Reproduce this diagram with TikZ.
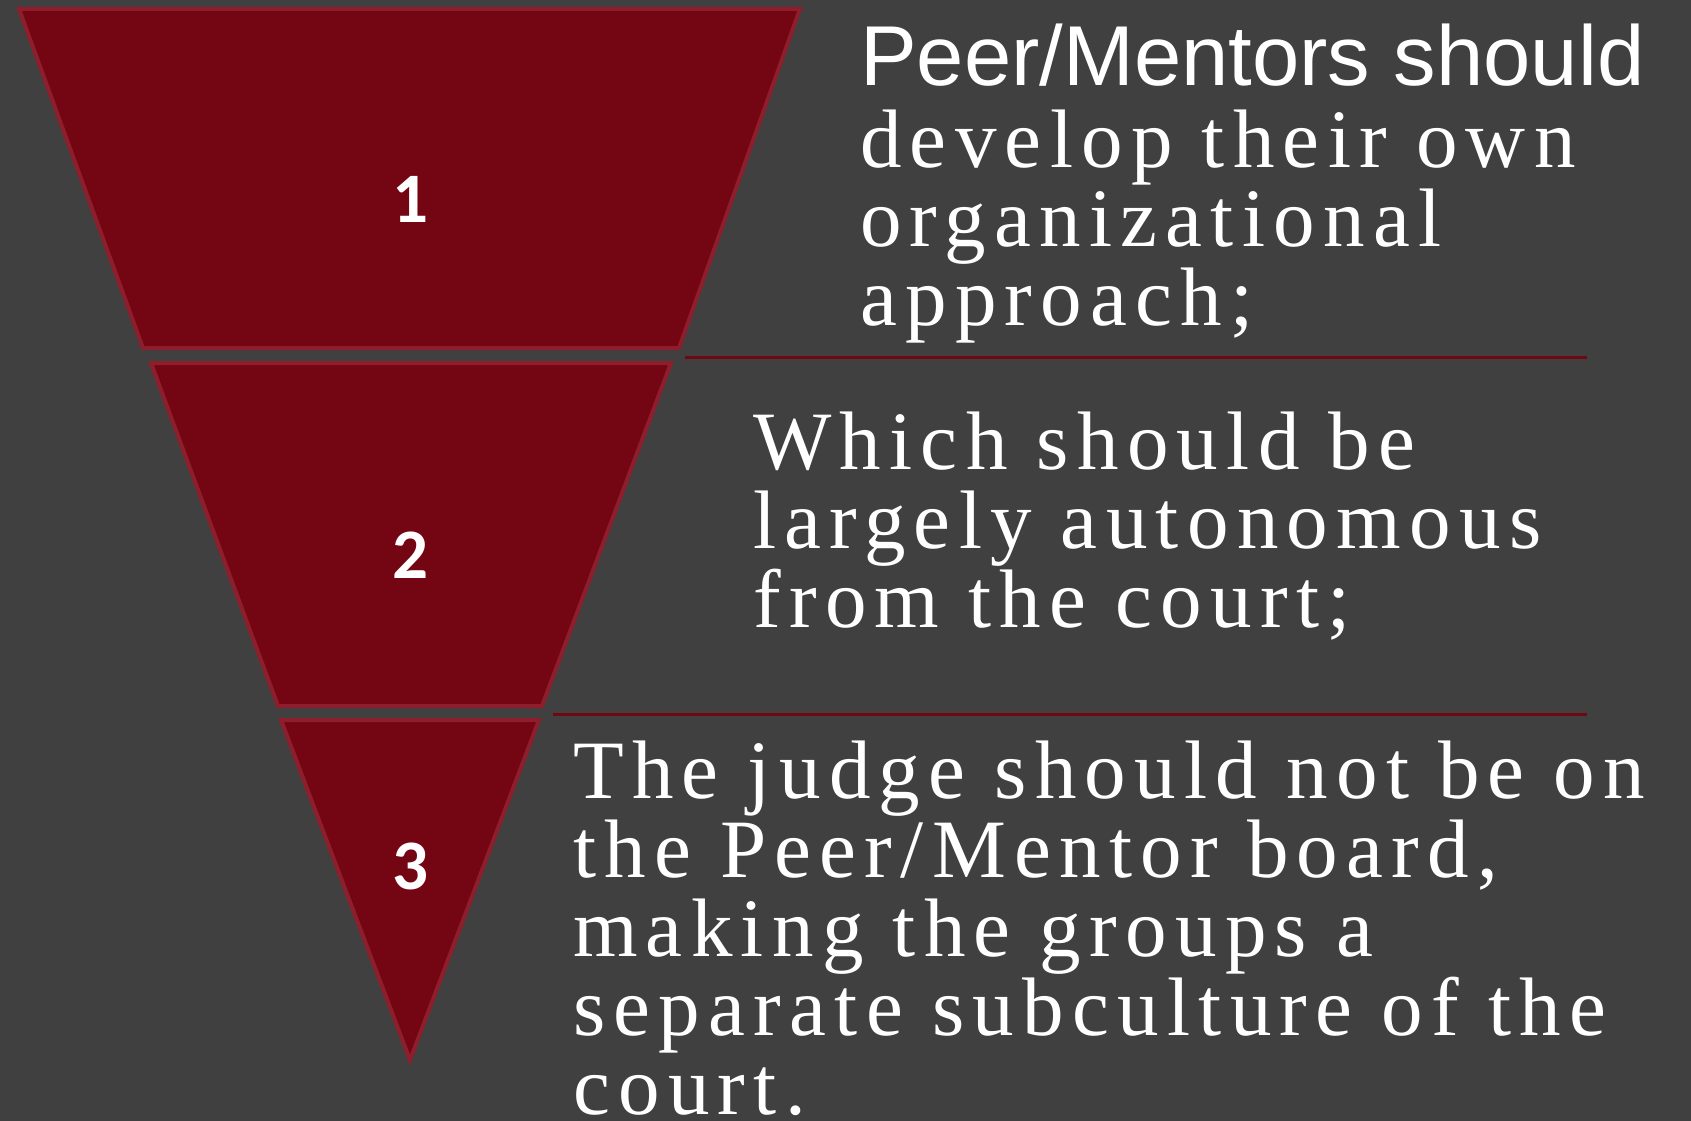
\documentclass[tikz,border=0pt]{standalone}
\usepackage{fontspec}
\setmainfont{Liberation Serif}
\newfontfamily\headfont{Liberation Sans}
\newfontfamily\numfont{Carlito}
\newfontfamily\spacedfont[LetterSpace=10]{Liberation Serif}
\usetikzlibrary{calc}
\definecolor{slide}{RGB}{64,64,64}
\definecolor{tierfill}{RGB}{116,5,18}
\definecolor{tierrim}{RGB}{142,30,44}
\definecolor{ruleline}{RGB}{112,8,20}
\tikzset{tier/.style={fill=tierfill,draw=tierrim,line width=4pt,line join=miter},
  tiernum/.style={text=white,inner sep=0pt,font=\numfont\bfseries\fontsize{71}{71}\selectfont},
  bodyline/.style={anchor=base west,inner sep=0pt,text=white,font=\spacedfont\fontsize{83}{83}\selectfont},
  sepline/.style={draw=ruleline,line width=3pt}}

\begin{document}
\begin{tikzpicture}[x=1pt,y=-1pt,line join=round]
\fill[slide] (0,0) rectangle (1691,1121);
\useasboundingbox (0,0) rectangle (1691,1121);
% --- 1: the three tiers of the inverted pyramid
\draw[tier] (19,9) -- (800,9) -- (679,348) -- (143,348) -- cycle;
\draw[tier] (151,363) -- (671,363) -- (542,706) -- (278,706) -- cycle;
\draw[tier] (281,720) -- (539,720) -- (410,1060) -- cycle;
\node[tiernum] (num1) at (410,199) {1};
\node[tiernum] (num2) at (410,555) {2};
\node[tiernum] (num3) at (410,866) {3};
% --- 2: rules between the text blocks
\draw[sepline] (685,357) -- (1587,357);
\draw[sepline] (553,714) -- (1587,714);
% --- 3: text blocks
\node[bodyline,font=\headfont\fontsize{85}{85}\selectfont] (head) at (860,86) {Peer/Mentors should};
\foreach \ln [count=\i] in {{develop their own},{organizational},{approach;}}
  \node[bodyline] (top-\i) at (860,{167+79*(\i-1)}) {\ln};
\foreach \ln [count=\i] in {{Which should be},{largely autonomous},{from the court;}}
  \node[bodyline] (mid-\i) at (753,{469+79*(\i-1)}) {\ln};
\foreach \ln [count=\i] in {{The judge should not be on},{the Peer/Mentor board,},{making the groups a},{separate subculture of the},{court.}}
  \node[bodyline] (low-\i) at (573,{798+79*(\i-1)}) {\ln};
\end{tikzpicture}
\end{document}
